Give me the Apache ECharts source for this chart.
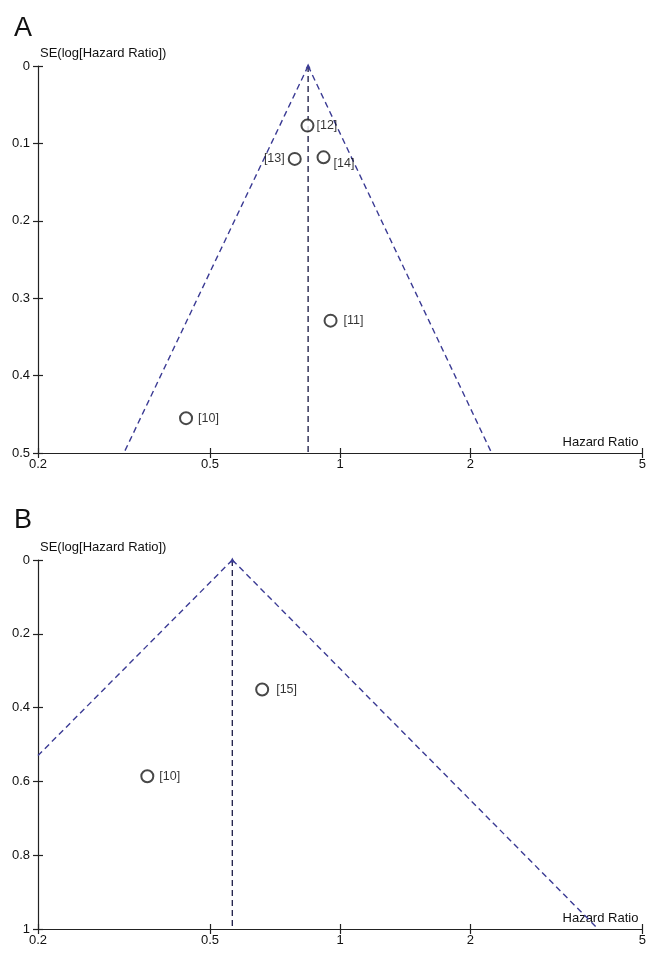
<!DOCTYPE html>
<html>
<head>
<meta charset="utf-8">
<script src="https://cdn.jsdelivr.net/npm/echarts@6/dist/echarts.min.js"></script>
<style>
html,body{margin:0;padding:0;background:#fff;}
#chart{width:649px;height:969px;}
</style>
</head>
<body>
<div id="chart"></div>
<script>
// ---- Panel A data ----
const studiesA = ['[12]', '[13]', '[14]', '[11]', '[10]'];
const hrA = [0.84, 0.785, 0.915, 0.95, 0.44];
const seA = [0.077, 0.120, 0.118, 0.329, 0.455];
const pooledA = 0.843;
const funnelLeftA = [0.316, 0.5];
const funnelRightA = [2.24, 0.5];
const seMaxA = 0.5;

// ---- Panel B data ----
const studiesB = ['[15]', '[10]'];
const hrB = [0.66, 0.358];
const seB = [0.351, 0.586];
const pooledB = 0.563;
const funnelLeftB = [0.2, 0.53];
const funnelRightB = [3.95, 1.0];
const seMaxB = 1.0;

const xTickValues = [0.2, 0.5, 1, 2, 5];
const xMin = 0.2, xMax = 5;

const FONT = '"Liberation Sans", Arial, sans-serif';
const funnelColor = '#3b3b94';
const vertColor = '#26264e';
const axisColor = '#222';

const labelPos = {
  '[12]': {position: 'right', distance: 2},
  '[13]': {position: 'left', distance: 3},
  '[14]': {position: 'right', distance: 3, offset: [0, 6]},
  '[11]': {position: 'right', distance: 6},
  '[10]': {position: 'right', distance: 5},
  '[15]': {position: 'right', distance: 7}
};

const chart = echarts.init(document.getElementById('chart'), null, {renderer: 'canvas'});

function xAxes(gridIndex, inside, showLabel, name) {
  return {
    type: 'log', logBase: 10, gridIndex, min: xMin, max: xMax, position: 'bottom',
    name: name || '',
    nameLocation: 'end', nameGap: 0,
    nameTextStyle: {fontFamily: FONT, fontSize: 13, color: '#111', align: 'right', verticalAlign: 'bottom', padding: [0, 4, 4, 0]},
    axisLine: {show: !inside, onZero: false, lineStyle: {color: axisColor, width: 1.2}},
    axisTick: {show: true, inside, length: 5, customValues: xTickValues, lineStyle: {color: axisColor, width: 1.2}},
    axisLabel: {show: showLabel, customValues: xTickValues, fontFamily: FONT, fontSize: 13, color: '#111', margin: 5,
      formatter: v => String(+v.toPrecision(3))},
    splitLine: {show: false}, minorTick: {show: false}
  };
}
function yAxes(gridIndex, maxV, interval, inside, showLabel, name) {
  return {
    type: 'value', gridIndex, min: 0, max: maxV, interval, inverse: true, position: 'left',
    name: name || '', nameLocation: 'start', nameGap: 6,
    nameTextStyle: {fontFamily: FONT, fontSize: 13, color: '#111', align: 'left', padding: [0, 0, 0, 2]},
    axisLine: {show: !inside, onZero: false, lineStyle: {color: axisColor, width: 1.2}},
    axisTick: {show: true, inside, length: 5, lineStyle: {color: axisColor, width: 1.2}},
    axisLabel: {show: showLabel, fontFamily: FONT, fontSize: 13, color: '#111', margin: 8,
      formatter: v => String(+v.toFixed(2))},
    splitLine: {show: false}
  };
}

function funnelSeries(xi, yi, pooled, left, right, seMax) {
  const dashed = {type: [6, 4], width: 1.4, color: funnelColor};
  return [
    {type: 'line', xAxisIndex: xi, yAxisIndex: yi, data: [[pooled, 0], left], symbol: 'none', lineStyle: dashed, silent: true, z: 2},
    {type: 'line', xAxisIndex: xi, yAxisIndex: yi, data: [[pooled, 0], right], symbol: 'none', lineStyle: dashed, silent: true, z: 2},
    {type: 'line', xAxisIndex: xi, yAxisIndex: yi,
      data: [{value: [pooled, 0], symbol: 'triangle', symbolSize: 5}, {value: [pooled, seMax], symbol: 'none'}],
      showSymbol: true, itemStyle: {color: funnelColor},
      lineStyle: {type: [6, 4], width: 1.4, color: vertColor}, silent: true, z: 2}
  ];
}

function scatterSeries(xi, yi, names, hr, se) {
  return {
    type: 'scatter', xAxisIndex: xi, yAxisIndex: yi, symbol: 'emptyCircle', symbolSize: 12,
    itemStyle: {color: '#1a1a1a', borderColor: '#1a1a1a', borderWidth: 1.3},
    data: names.map((n, i) => ({
      name: n, value: [hr[i], se[i]],
      label: Object.assign({show: true, formatter: n, fontFamily: FONT, fontSize: 12.5, color: '#000'}, labelPos[n])
    })),
    z: 5
  };
}

const option = {
  backgroundColor: '#fff',
  animation: false,
  title: [
    {text: 'A', left: 9, top: 10, textStyle: {fontFamily: FONT, fontSize: 27, fontWeight: 'normal', color: '#111'}},
    {text: 'B', left: 9, top: 502, textStyle: {fontFamily: FONT, fontSize: 27, fontWeight: 'normal', color: '#111'}}
  ],
  grid: [
    {left: 38, right: 2, top: 66, height: 387},
    {left: 38, right: 2, top: 560, height: 369}
  ],
  xAxis: [
    xAxes(0, false, true, 'Hazard Ratio'),
    xAxes(0, true, false),
    xAxes(1, false, true, 'Hazard Ratio'),
    xAxes(1, true, false)
  ],
  yAxis: [
    yAxes(0, seMaxA, 0.1, false, true, 'SE(log[Hazard Ratio])'),
    yAxes(0, seMaxA, 0.1, true, false),
    yAxes(1, seMaxB, 0.2, false, true, 'SE(log[Hazard Ratio])'),
    yAxes(1, seMaxB, 0.2, true, false)
  ],
  series: [
    ...funnelSeries(0, 0, pooledA, funnelLeftA, funnelRightA, seMaxA),
    scatterSeries(0, 0, studiesA, hrA, seA),
    ...funnelSeries(2, 2, pooledB, funnelLeftB, funnelRightB, seMaxB),
    scatterSeries(2, 2, studiesB, hrB, seB)
  ]
};
chart.setOption(option);
</script>
</body>
</html>
